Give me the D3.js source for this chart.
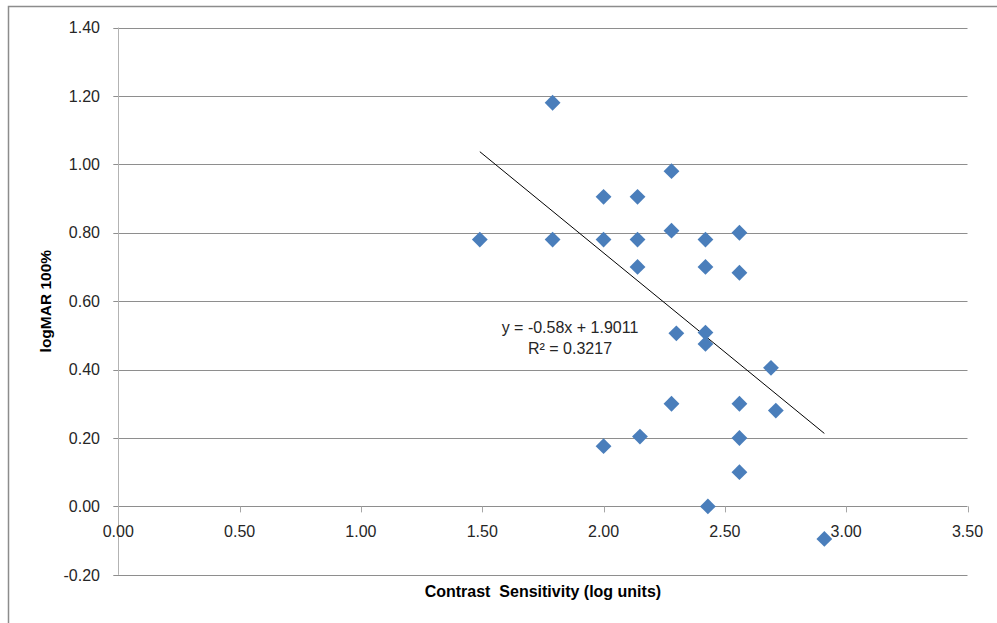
<!DOCTYPE html>
<html>
<head>
<meta charset="utf-8">
<script src="https://cdn.jsdelivr.net/npm/d3@7"></script>
<style>
  body { margin: 0; background: #fff; }
  svg { display: block; font-family: "Liberation Sans", Arial, sans-serif; }
</style>
</head>
<body>
<svg id="chart" width="997" height="623"></svg>
<script>
// Contrast sensitivity (log units) vs logMAR 100%
const contrast = [1.79, 2.28, 2.00, 2.14, 1.49, 1.79, 2.00, 2.14, 2.28, 2.14,
                  2.42, 2.56, 2.42, 2.56, 2.30, 2.42, 2.42, 2.69, 2.28, 2.56,
                  2.71, 2.15, 2.00, 2.56, 2.56, 2.43, 2.91];
const logmar = [1.18, 0.98, 0.905, 0.905, 0.78, 0.78, 0.78, 0.78, 0.806, 0.70,
                0.78, 0.80, 0.70, 0.683, 0.506, 0.508, 0.475, 0.405, 0.30, 0.30,
                0.28, 0.204, 0.176, 0.20, 0.10, 0.00, -0.095];
const xTicks = [0, 0.5, 1, 1.5, 2, 2.5, 3, 3.5];
const yTicks = [-0.2, 0, 0.2, 0.4, 0.6, 0.8, 1.0, 1.2, 1.4];
const slope = -0.58;
const intercept = 1.9011;
const rSquared = 0.3217;

const width = 997;
const height = 623;

// excel style labels: plain hyphen for negatives
const fmt = d => d3.format('.2f')(d).replace('\u2212', '-');

const svg = d3.select('#chart');

// chart border (only left and top visible in the crop)
svg.append('path')
    .attr('d', `M8.5,${height} V6.5 H${width}`)
    .attr('fill', 'none')
    .attr('stroke', '#8c8c8c')
    .attr('stroke-width', 1.5);

const xScale = d3.scaleLinear().domain([0, 3.5]).range([118.3, 967.5]);
const yScale = d3.scaleLinear().domain([-0.2, 1.4]).range([574.8, 27.5]);

// horizontal gridlines + left tick marks
svg.append('g')
    .selectAll('line')
    .data(yTicks)
    .enter()
    .append('line')
    .attr('x1', xScale(0) - 5)
    .attr('x2', xScale(3.5))
    .attr('y1', d => Math.round(yScale(d)) + 0.5)
    .attr('y2', d => Math.round(yScale(d)) + 0.5)
    .attr('stroke', '#8e8e8e')
    .attr('stroke-width', 1);

// y axis line
svg.append('line')
    .attr('x1', Math.round(xScale(0)) + 0.5)
    .attr('x2', Math.round(xScale(0)) + 0.5)
    .attr('y1', yScale(1.4))
    .attr('y2', yScale(-0.2))
    .attr('stroke', '#b3b3b3')
    .attr('stroke-width', 1);

// x tick marks, hanging down from the zero line
svg.append('g')
    .selectAll('line')
    .data(xTicks.slice(1))
    .enter()
    .append('line')
    .attr('x1', d => Math.round(xScale(d)) + 0.5)
    .attr('x2', d => Math.round(xScale(d)) + 0.5)
    .attr('y1', yScale(0))
    .attr('y2', yScale(0) + 6)
    .attr('stroke', '#a6a6a6');

// y tick labels
svg.append('g')
    .selectAll('text')
    .data(yTicks)
    .enter()
    .append('text')
    .attr('x', 100)
    .attr('y', d => yScale(d))
    .attr('dy', '0.36em')
    .attr('text-anchor', 'end')
    .style('font-size', '16px')
    .style('fill', '#262626')
    .text(fmt);

// x tick labels
svg.append('g')
    .selectAll('text')
    .data(xTicks)
    .enter()
    .append('text')
    .attr('x', d => xScale(d))
    .attr('y', 537)
    .attr('text-anchor', 'middle')
    .style('font-size', '16px')
    .style('fill', '#262626')
    .text(fmt);

// axis titles
svg.append('text')
    .attr('x', (xScale(0) + xScale(3.5)) / 2)
    .attr('y', 597)
    .attr('text-anchor', 'middle')
    .style('font-size', '16px')
    .style('font-weight', 'bold')
    .style('white-space', 'pre')
    .style('fill', '#000')
    .text('Contrast  Sensitivity (log units)');

svg.append('text')
    .attr('transform', `translate(45, ${(yScale(1.4) + yScale(-0.2)) / 2}) rotate(-90)`)
    .attr('dy', '0.36em')
    .attr('text-anchor', 'middle')
    .style('font-size', '15.5px')
    .style('font-weight', 'bold')
    .style('fill', '#000')
    .text('logMAR 100%');

// linear trendline across the data range
const xMin = d3.min(contrast);
const xMax = d3.max(contrast);
svg.append('line')
    .attr('x1', xScale(xMin))
    .attr('y1', yScale(slope * xMin + intercept))
    .attr('x2', xScale(xMax))
    .attr('y2', yScale(slope * xMax + intercept))
    .attr('stroke', '#000')
    .attr('stroke-width', 1);

// diamond markers
const points = contrast.map((c, i) => ({ x: c, y: logmar[i] }));
svg.append('g')
    .selectAll('path')
    .data(points)
    .enter()
    .append('path')
    .attr('d', d3.symbol(d3.symbolSquare, 125))
    .attr('transform', d => `translate(${xScale(d.x)}, ${yScale(d.y)}) rotate(45)`)
    .attr('fill', '#4a7ebb');

// trendline equation
const eq = svg.append('g').style('font-size', '16px').style('fill', '#262626');
eq.append('text')
    .attr('x', 570)
    .attr('y', 333)
    .attr('text-anchor', 'middle')
    .text(`y = ${slope}x + ${intercept}`);
eq.append('text')
    .attr('x', 570)
    .attr('y', 354)
    .attr('text-anchor', 'middle')
    .text(`R² = ${rSquared}`);
</script>
</body>
</html>
